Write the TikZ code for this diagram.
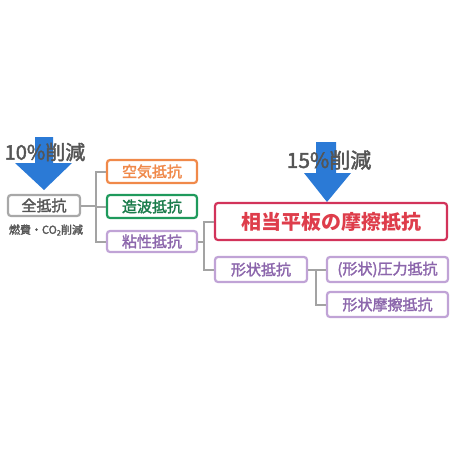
\documentclass[tikz,border=0pt]{standalone}
\usepackage{fontspec}
\setmainfont{Noto Sans CJK JP}
\newfontfamily\medfont[FakeBold=2]{Noto Sans CJK JP}
\definecolor{cgray}{HTML}{A8A8A8}
\definecolor{cline}{HTML}{A3A3A3}
\definecolor{ctext}{HTML}{555555}
\definecolor{corange}{HTML}{F0894A}
\definecolor{cgreen}{HTML}{1F9A5C}
\definecolor{cpurple}{HTML}{C0A3D6}
\definecolor{cpurpletext}{HTML}{8C66AC}
\definecolor{ccrimson}{HTML}{D2335A}
\definecolor{credtext}{HTML}{DE3D4B}
\definecolor{cblue}{HTML}{2B7AD6}
\begin{document}
\begin{tikzpicture}[x=1pt,y=-1pt,
  box/.style={draw, rounded corners=3pt, line width=2.2pt, fill=white, inner sep=0pt, font=\fontsize{15}{15}\selectfont\medfont},
  conn/.style={draw=cline, line width=2pt},
  blk/.style={fill=cblue},
  pct/.style={text=ctext, font=\fontsize{20}{20}\selectfont\medfont}]
\useasboundingbox (0,0) rectangle (450,450);
% arrows
\fill[blk] (35,137) -- (53,137) -- (53,163) -- (72,163) -- (44,190) -- (15,163) -- (35,163) -- cycle;
\fill[blk] (316,142) -- (336,142) -- (336,173) -- (351,173) -- (327,202) -- (304,173) -- (316,173) -- cycle;
\node[pct] (p10) at (45,152) {10\%削減};
\node[pct, font=\fontsize{21}{21}\selectfont\medfont] (p15) at (329,160) {15\%削減};
% boxes
\node[box, draw=cgray, text=ctext, minimum width=72pt, minimum height=21pt] (zen) at (44,205.5) {全抵抗};
\node[text=ctext, font=\fontsize{11}{11}\selectfont\medfont] (nenpi) at (46,230) {燃費・CO\raisebox{-0.15em}{\fontsize{7.5}{7.5}\selectfont 2}削減};
\node[box, draw=corange, text=corange, minimum width=90pt, minimum height=23pt] (kuuki) at (152,171.5) {空気抵抗};
\node[box, draw=cgreen, text=cgreen!80!black, minimum width=90pt, minimum height=23pt] (zouha) at (152,206.5) {造波抵抗};
\node[box, draw=cpurple, text=cpurpletext, minimum width=90pt, minimum height=21pt] (nensei) at (152,241.5) {粘性抵抗};
\node[box, draw=ccrimson, text=credtext, minimum width=232pt, minimum height=37pt, font=\fontsize{20}{20}\selectfont\bfseries] (soutou) at (331,221.5) {相当平板の摩擦抵抗};
\node[box, draw=cpurple, text=cpurpletext, minimum width=92pt, minimum height=25pt] (keijou) at (261,269.5) {形状抵抗};
\node[box, draw=cpurple, text=cpurpletext, minimum width=121pt, minimum height=25pt] (atsu) at (387.5,269.5) {(形状)圧力抵抗};
\node[box, draw=cpurple, text=cpurpletext, minimum width=121pt, minimum height=25pt] (masatsu) at (387.5,304.5) {形状摩擦抵抗};
% connectors
\coordinate (j1) at (96,205.5);
\coordinate (j2) at (204,241.5);
\coordinate (j3) at (316,269.5);
\path[conn] (zen.east) -- (j1);
\path[conn] (j1) |- (kuuki.west);
\path[conn] (j1) |- (zouha.west);
\path[conn] (j1) |- (nensei.west);
\path[conn] (nensei.east) -- (j2);
\path[conn] (j2) |- (soutou.west);
\path[conn] (j2) |- (keijou.west);
\path[conn] (keijou.east) -- (j3);
\path[conn] (j3) |- (atsu.west);
\path[conn] (j3) |- (masatsu.west);
\end{tikzpicture}
\end{document}
